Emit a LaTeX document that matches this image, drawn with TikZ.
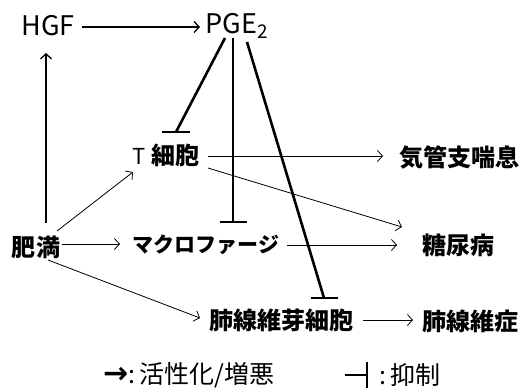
\documentclass[tikz,border=0pt]{standalone}
\usepackage{fontspec}
\setmainfont{Noto Sans CJK JP}
\newfontfamily\symfont{DejaVu Sans}
\usetikzlibrary{arrows.meta}
\begin{document}
\begin{tikzpicture}[x=1pt,y=-1pt,
  lat/.style={font=\fontsize{27}{27}\selectfont, inner sep=0pt},
  jp/.style={font=\bfseries\fontsize{24}{24}\selectfont, inner sep=0pt},
  leg/.style={font=\fontsize{25}{25}\selectfont, inner sep=0pt, anchor=west},
  act/.style={line width=0.8pt, -{Straight Barb[length=5pt,width=11pt]}},
  actb/.style={line width=1.3pt, -{Straight Barb[length=5pt,width=11pt]}},
  inh/.style={line width=2.6pt},
  bar/.style={line width=2.6pt}]
\useasboundingbox (0,0) rectangle (521,389);

% nodes
\node[lat] (hgf) at (48,26) {HGF};
\node[lat] (pge) at (237,26) {PGE\textsubscript{2}};
\node[inner sep=0pt] (tc) at (166,155) {{\fontsize{22}{22}\selectfont T}\hspace{5pt}{\bfseries\fontsize{24}{24}\selectfont 細胞}};
\node[jp] (ast) at (459,157) {気管支喘息};
\node[jp] (fat) at (36,247) {肥満};
\node[jp, font=\bfseries\fontsize{21}{21}\selectfont] (mac) at (206,245) {マクロファージ};
\node[jp] (dia) at (458,245) {糖尿病};
\node[jp] (fib) at (281,320) {肺線維芽細胞};
\node[jp] (fis) at (470,321) {肺線維症};

% activating arrows
\draw[actb] ([shift={(34,1)}]hgf.center) -- ([shift={(-37,1)}]pge.center);
\draw[actb] ([shift={(10,-24)}]fat.center) -- ([shift={(-2,27)}]hgf.center);
\draw[act] ([shift={(21,-16)}]fat.center) -- ([shift={(-33,17)}]tc.center);
\draw[act] ([shift={(26,-3)}]fat.center) -- ([shift={(-86,-1)}]mac.center);
\draw[act] ([shift={(12,13)}]fat.center) -- ([shift={(-81,-2)}]fib.center);
\draw[act] ([shift={(42,1)}]tc.center) -- ([shift={(-76,-1)}]ast.center);
\draw[act] ([shift={(42,13)}]tc.center) -- ([shift={(-56,-18)}]dia.center);
\draw[act] ([shift={(81,0)}]mac.center) -- ([shift={(-61,0)}]dia.center);
\draw[act] ([shift={(82,0)}]fib.center) -- ([shift={(-57,-1)}]fis.center);

% inhibiting connectors
\coordinate (b1) at (176,132);
\coordinate (b2) at (233,222);
\coordinate (b3) at (324,298);
\draw[inh] ([shift={(-12,12)}]pge.center) -- (b1);
\draw[bar] ([xshift=-14pt]b1) -- ([xshift=14pt]b1);
\draw[inh] ([shift={(-4,12)}]pge.center) -- (b2);
\draw[bar] ([xshift=-13.5pt]b2) -- ([xshift=13.5pt]b2);
\draw[inh] ([shift={(10,16)}]pge.center) -- (b3);
\draw[bar] ([xshift=-13.5pt]b3) -- ([xshift=13.5pt]b3);

% legend
\node[leg] (l1) at (103,375) {{\symfont\bfseries\fontsize{30}{30}\selectfont →}:\hspace{4pt}活性化/増悪};
\coordinate (l2a) at (345,375);
\coordinate (l2b) at (367,375);
\draw[inh] (l2a) -- (l2b);
\draw[bar] ([yshift=-13pt]l2b) -- ([yshift=13pt]l2b);
\node[leg] (l2) at (379,375) {:\hspace{4pt}抑制};
\end{tikzpicture}
\end{document}
